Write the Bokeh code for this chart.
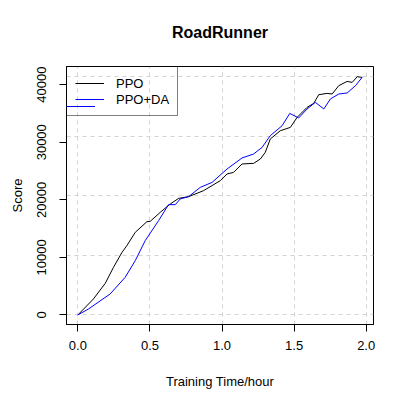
from bokeh.plotting import figure
from bokeh.models import Range1d, FixedTicker, PrintfTickFormatter, Legend, LegendItem, LinearAxis
from bokeh.embed import file_html
from bokeh.resources import INLINE

# ---- data ----
ppo_x = [0.0, 0.108, 0.19, 0.247, 0.306, 0.34, 0.398, 0.479, 0.502, 0.571, 0.641, 0.699,
         0.768, 0.872, 0.988, 1.035, 1.08, 1.139, 1.219, 1.266, 1.30, 1.335, 1.405, 1.474,
         1.521, 1.59, 1.636, 1.671, 1.729, 1.764, 1.81, 1.868, 1.903, 1.938, 1.972]
ppo_y = [0, 2780, 5490, 8270, 10870, 12040, 14350, 16200, 16260, 17820, 19280, 20250,
         20550, 21590, 23330, 24490, 24770, 26230, 26330, 27090, 28240, 30570, 32010, 32580,
         34320, 36060, 36750, 38260, 38490, 38380, 39830, 40570, 40400, 41390, 41270]

da_x = [0.0, 0.074, 0.224, 0.328, 0.398, 0.467, 0.56, 0.629, 0.676, 0.71, 0.768, 0.849,
        0.931, 1.035, 1.139, 1.219, 1.278, 1.335, 1.417, 1.47, 1.532, 1.59, 1.648, 1.706,
        1.752, 1.81, 1.868, 1.926, 1.972]
da_y = [0, 1040, 3650, 6530, 9430, 12900, 16380, 19160, 19160, 20150, 20550, 22160,
        23030, 25360, 27270, 27960, 29110, 31150, 32880, 35010, 34220, 35780, 36930, 35780,
        37520, 38380, 38560, 39830, 41270]

x_ticks = [0.0, 0.5, 1.0, 1.5, 2.0]
y_ticks = [0, 10000, 20000, 30000, 40000]
y_grid = [0, 10360, 20720, 31080, 41440]

series_names = ["PPO", "PPO+DA"]
title_text = "RoadRunner"
x_label = "Training Time/hour"
y_label = "Score"

# ---- ranges with R-style 4% padding ----
xmin, xmax = min(ppo_x + da_x), max(ppo_x + da_x)
ymin, ymax = min(ppo_y + da_y), 41500
xp = 0.04 * (xmax - xmin)
yp = 0.04 * (ymax - ymin)

FONT = "Liberation Sans"
W, H = 407, 407
BL, BR, BT, BB = 66, 34, 66, 83

p = figure(width=W, height=H, output_backend="svg", toolbar_location=None,
           x_range=Range1d(xmin - xp, xmax + xp), y_range=Range1d(ymin - yp, ymax + yp),
           x_axis_label=x_label, y_axis_label=y_label)
p.min_border_left = BL
p.min_border_right = BR
p.min_border_top = BT
p.min_border_bottom = BB
p.background_fill_color = "white"
p.border_fill_color = "white"
p.outline_line_color = "black"
p.outline_line_width = 1
p.outline_line_alpha = 1

xax = p.below[0]
yax = p.left[0]

for ax in (xax, yax):
    ax.axis_line_color = "black"
    ax.major_tick_line_color = "black"
    ax.minor_tick_line_color = None
    ax.major_tick_out = 7
    ax.major_tick_in = 0
    ax.major_label_text_font = FONT
    ax.major_label_text_font_size = "13px"
    ax.major_label_text_color = "black"
    ax.axis_label_text_font = FONT
    ax.axis_label_text_font_size = "13px"
    ax.axis_label_text_font_style = "normal"
    ax.axis_label_text_color = "black"

xax.ticker = FixedTicker(ticks=x_ticks)
xax.formatter = PrintfTickFormatter(format="%.1f")
xax.major_label_standoff = 9
xax.axis_label_standoff = 21

yax.ticker = FixedTicker(ticks=y_ticks)
yax.formatter = PrintfTickFormatter(format="%d")
yax.major_label_orientation = "vertical"
yax.major_label_standoff = 13
yax.axis_label_standoff = 10

# title drawn as the label of an empty axis above the frame
title_axis = LinearAxis(ticker=FixedTicker(ticks=[]), axis_label=title_text)
title_axis.axis_line_color = None
title_axis.major_tick_line_color = None
title_axis.minor_tick_line_color = None
title_axis.major_tick_out = 0
title_axis.major_tick_in = 0
title_axis.major_label_standoff = 0
title_axis.major_label_text_font_size = "0px"
title_axis.axis_label_text_font = FONT
title_axis.axis_label_text_font_size = "16px"
title_axis.axis_label_text_font_style = "bold"
title_axis.axis_label_text_color = "black"
title_axis.axis_label_standoff = 26
p.add_layout(title_axis, "above")

p.xgrid.ticker = FixedTicker(ticks=x_ticks)
p.ygrid.ticker = FixedTicker(ticks=y_grid)
for g in (p.xgrid[0], p.ygrid[0]):
    g.grid_line_color = "#d3d3d3"
    g.grid_line_dash = "4 4"
    g.grid_line_width = 1

r1 = p.line(ppo_x, ppo_y, line_color="black", line_width=1)
r2 = p.line(da_x, da_y, line_color="#0000ff", line_width=1)

PAD, ROW = 8, 16


def style_legend(lg):
    lg.margin = 0
    lg.padding = PAD
    lg.spacing = 0
    lg.glyph_width = 29
    lg.glyph_height = ROW
    lg.label_height = ROW
    lg.label_standoff = 12
    lg.label_text_font = FONT
    lg.label_text_font_size = "13px"
    lg.label_text_color = "black"
    lg.background_fill_alpha = 0


legend = Legend(items=[LegendItem(label=series_names[0], renderers=[r1]),
                       LegendItem(label=series_names[1], renderers=[r2])],
                location="top_left")
style_legend(legend)
legend.border_line_color = "black"
legend.border_line_width = 1
p.add_layout(legend, "center")

# overlay that redraws only the second legend sample, so it keeps its blue colour
frame_h = H - BT - BB
overlay = Legend(items=[LegendItem(label=series_names[1], renderers=[r2])],
                 location=(0, frame_h - ROW - (2 * PAD + ROW)))
style_legend(overlay)
overlay.border_line_color = None
overlay.label_text_alpha = 0
p.add_layout(overlay, "center")

open("out.html", "w").write(file_html(p, INLINE))
